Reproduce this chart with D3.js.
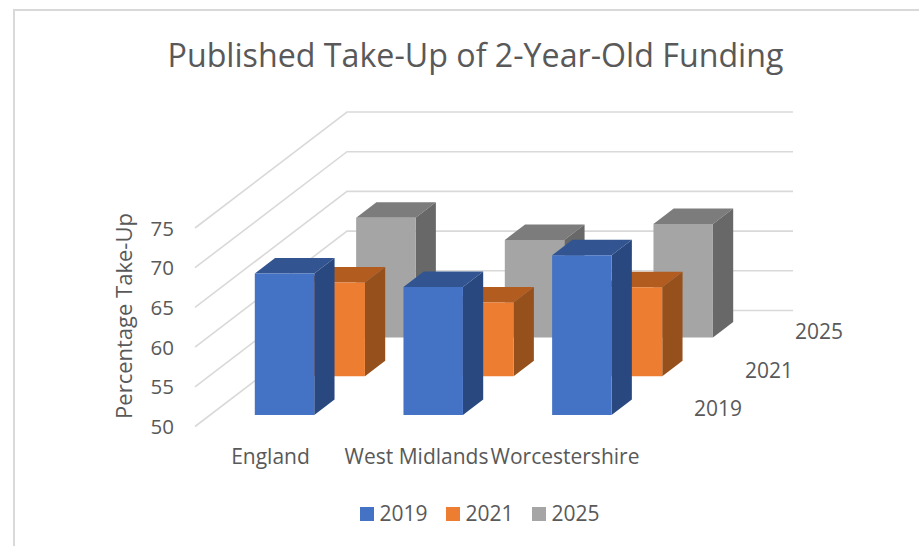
<!DOCTYPE html>
<html>
<head>
<meta charset="utf-8">
<script src="https://cdn.jsdelivr.net/npm/d3@7"></script>
<style>
html,body{margin:0;padding:0;background:#fff;overflow:hidden}
text{font-family:"Open Sans","Noto Sans",sans-serif;fill:#595959}
</style>
</head>
<body>
<svg id="c" width="919" height="546"></svg>
<script>
const categories = ["England", "West Midlands", "Worcestershire"];
const seriesNames = ["2019", "2021", "2025"];
const values2019 = [67.8, 66.1, 70.1];
const values2021 = [61.8, 59.3, 61.2];
const values2025 = [65.1, 62.3, 64.3];
const yTicks = [50, 55, 60, 65, 70, 75];
const colors = {
  "2019": ["#4472c4", "#325591", "#2a4880"],
  "2021": ["#ed7d31", "#b35c20", "#95501b"],
  "2025": ["#a5a5a5", "#7c7c7c", "#686868"]
};

const svg = d3.select("#c");

// Oblique projection of the 3-D box
const originX = 195;
const floorW = 446, depthW = 152, depthH = 116;
const xS = d3.scaleBand().domain(categories).range([0, floorW]).paddingInner(0.6).paddingOuter(0.3);
const zS = d3.scaleBand().domain(seriesNames).range([0, depthW]).paddingInner(0.6).paddingOuter(0.3);
const yS = d3.scaleLinear().domain([50, 75]).range([426.5, 228]);
const pt = (x, v, z) => [originX + x + z, yS(v) - z * depthH / depthW];
const poly = pts => d3.line()(pts) + "Z";

// Chart frame (open on the right and at the bottom, as cropped)
svg.append("path").attr("d", "M14,546V10H919").attr("fill", "none").attr("stroke", "#d9d9d9").attr("stroke-width", 2);

// Title
svg.append("text").attr("x", 475.5).attr("y", 67).attr("text-anchor", "middle")
  .attr("font-size", 32.2).text("Published Take-Up of 2-Year-Old Funding");

// Gridlines: along the side wall, then along the back wall
const grid = svg.append("g").attr("fill", "none").attr("stroke", "#d9d9d9").attr("stroke-width", 1.6);
yTicks.forEach(t => {
  const a = pt(0, t, 0), b = pt(0, t, depthW), c = pt(floorW, t, depthW);
  grid.append("path").attr("d", d3.line()([a, b, c]));
});

// Value labels
svg.append("g").selectAll("text").data(yTicks).join("text")
  .attr("x", 174).attr("y", d => yS(d) + 7.5).attr("text-anchor", "end").attr("font-size", 20.5).text(d => d);

// Axis title
svg.append("text").attr("transform", "translate(132,316) rotate(-90)").attr("text-anchor", "middle")
  .attr("font-size", 22).text("Percentage Take-Up");

// Bars, rear series first
const seriesValues = {"2019": values2019, "2021": values2021, "2025": values2025};
const bars = svg.append("g");
[...seriesNames].reverse().forEach(s => {
  const z0 = zS(s), z1 = z0 + zS.bandwidth();
  categories.forEach((cat, i) => {
    const x0 = xS(cat), x1 = x0 + xS.bandwidth(), v = seriesValues[s][i];
    const [front, top, side] = colors[s];
    bars.append("path").attr("fill", top)
      .attr("d", poly([pt(x0, v, z0), pt(x1, v, z0), pt(x1, v, z1), pt(x0, v, z1)]));
    bars.append("path").attr("fill", side)
      .attr("d", poly([pt(x1, v, z0), pt(x1, v, z1), pt(x1, 50, z1), pt(x1, 50, z0)]));
    bars.append("path").attr("fill", front)
      .attr("d", poly([pt(x0, v, z0), pt(x1, v, z0), pt(x1, 50, z0), pt(x0, 50, z0)]));
  });
});

// Category labels
const catCenters = [270.5, 416.5, 565];
svg.append("g").selectAll("text").data(categories).join("text")
  .attr("x", (d, i) => catCenters[i]).attr("y", 464).attr("text-anchor", "middle")
  .attr("font-size", 21).text(d => d);

// Series (depth) labels
const depthLabelX = [694, 745, 795], depthLabelY = [416, 378, 339];
svg.append("g").selectAll("text").data(seriesNames).join("text")
  .attr("x", (d, i) => depthLabelX[i]).attr("y", (d, i) => depthLabelY[i])
  .attr("font-size", 21).text(d => d);

// Legend
const legendX = [360, 446, 532];
const lg = svg.append("g").selectAll("g").data(seriesNames).join("g");
lg.append("rect").attr("x", (d, i) => legendX[i]).attr("y", 507).attr("width", 14).attr("height", 14)
  .attr("fill", d => colors[d][0]);
lg.append("text").attr("x", (d, i) => legendX[i] + 19.5).attr("y", 521).attr("font-size", 21).text(d => d);
</script>
</body>
</html>
